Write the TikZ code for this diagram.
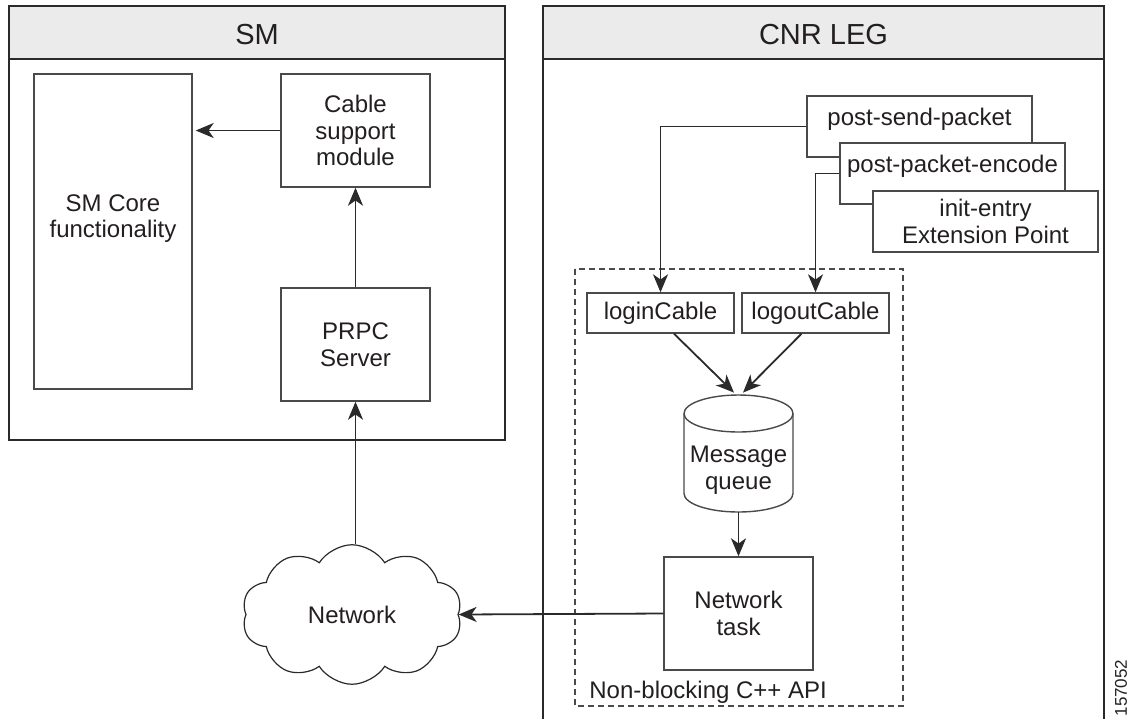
\documentclass[tikz,border=0pt]{standalone}
\usepackage{fontspec}
\setmainfont{Liberation Sans}
\usetikzlibrary{arrows.meta,shapes.symbols}
\definecolor{hdr}{HTML}{EBEBEB}
\definecolor{ink}{HTML}{231F20}
\definecolor{edge}{HTML}{2A2A2A}
\definecolor{thin}{HTML}{4A4A4A}
\begin{document}
\begin{tikzpicture}[x=0.5pt,y=-0.5pt,
  every node/.style={text=ink,font=\fontsize{12}{13.25}\selectfont},
  outer/.style={draw=edge,line width=1.1pt},
  box/.style={draw=thin,line width=0.7pt,fill=white,inner sep=0pt,align=center},
  txt/.style={inner sep=0pt,align=center},
  arr/.style={draw=edge,line width=0.9pt,-{Stealth[length=9pt,width=7.5pt,inset=2.6pt]}},
  plain/.style={draw=edge,line width=0.9pt}]
\useasboundingbox (0,0) rectangle (1129,719);
% SM container
\draw[outer,fill=hdr] (9,6) rectangle (505,59);
\draw[outer] (9,59) rectangle (505,440);
\node[txt,font=\fontsize{14.5}{16}\selectfont] (smtitle) at (257,35) {SM};
% CNR LEG container
\draw[outer,fill=hdr] (543,6) rectangle (1104,59);
\draw[outer] (543,719) -- (543,59) -- (1104,59) -- (1104,719);
\node[txt,font=\fontsize{14.5}{16}\selectfont] (cnrtitle) at (823.5,35) {CNR LEG};
% SM inner boxes
\node[box,minimum width=79pt,minimum height=157.5pt] (core) at (113,231.5) {};
\node[txt] (coretxt) at (113,218.5) {SM Core\\functionality};
\node[box,minimum width=74.5pt,minimum height=56.5pt] (cable) at (355.5,130.5) {Cable\\support\\module};
\node[box,minimum width=74.5pt,minimum height=56.5pt] (prpc) at (355.5,344.5) {PRPC\\Server};
% Network cloud
\node[cloud,draw=edge,line width=0.6pt,cloud puffs=10,cloud puff arc=115,minimum width=110pt,minimum height=63.5pt,inner sep=0pt,fill=white] (net) at (352,614.5) {Network};
% Dashed API box
\draw[draw=thin,line width=0.55pt,dash pattern=on 3pt off 2pt] (575,269) rectangle (903,706);
\node[txt,anchor=base west] (apitxt) at (589,698) {Non-blocking C++ API};
% Extension points
\node[box,minimum width=112.5pt,minimum height=30.5pt] (psp) at (919.5,126.5) {};
\node[txt] (psptxt) at (919.5,119) {post-send-packet};
\node[box,minimum width=112.5pt,minimum height=30.5pt] (ppe) at (952.5,173.5) {};
\node[txt] (ppetxt) at (952.5,166.5) {post-packet-encode};
\node[box,minimum width=112.5pt,minimum height=30.5pt] (ie) at (985.5,221.5) {init-entry\\Extension Point};
% API contents
\node[box,minimum width=73.5pt,minimum height=20pt] (login) at (660.5,313) {loginCable};
\node[box,minimum width=73.5pt,minimum height=20pt] (logout) at (815.5,313) {logoutCable};
\node[inner sep=0pt,minimum width=54.5pt,minimum height=58.5pt] (mq) at (738.5,453.5) {};
\draw[draw=thin,line width=0.7pt,fill=white] (684,413.5) -- (684,493.5)
  arc[start angle=180,end angle=360,x radius=27.25pt,y radius=9.25pt] -- (793,413.5);
\draw[draw=thin,line width=0.7pt] (738.5,413.5) ellipse [x radius=27.25pt,y radius=9.25pt];
\node[txt] (mqtxt) at (738.5,470) {Message\\queue};
\node[box,minimum width=74.5pt,minimum height=56.5pt] (ntask) at (738.5,613.5) {Network\\task};
% connectors
\draw[arr] (cable.west) -- ([xshift=1.5pt]cable.west -| core.east);
\draw[arr] (prpc.north) -- (cable.south);
\draw[arr] (net.north -| prpc.south) -- (prpc.south);
\draw[arr] (ntask.west) -- (net.east);
\draw[arr] (psp.west) -| (login.north);
\draw[arr] (ppe.west) -| (logout.north);
\draw[arr] ([xshift=6.75pt]login.south) -- ([xshift=-2.25pt,yshift=1pt]mq.north);
\draw[arr] ([xshift=-7pt]logout.south) -- ([xshift=2.25pt,yshift=1pt]mq.north);
\draw[arr] (mq.south) -- (ntask.north);
% figure number
\node[txt,rotate=90,font=\fontsize{8.5}{10}\selectfont] (fignum) at (1121,688) {157052};
\end{tikzpicture}
\end{document}
